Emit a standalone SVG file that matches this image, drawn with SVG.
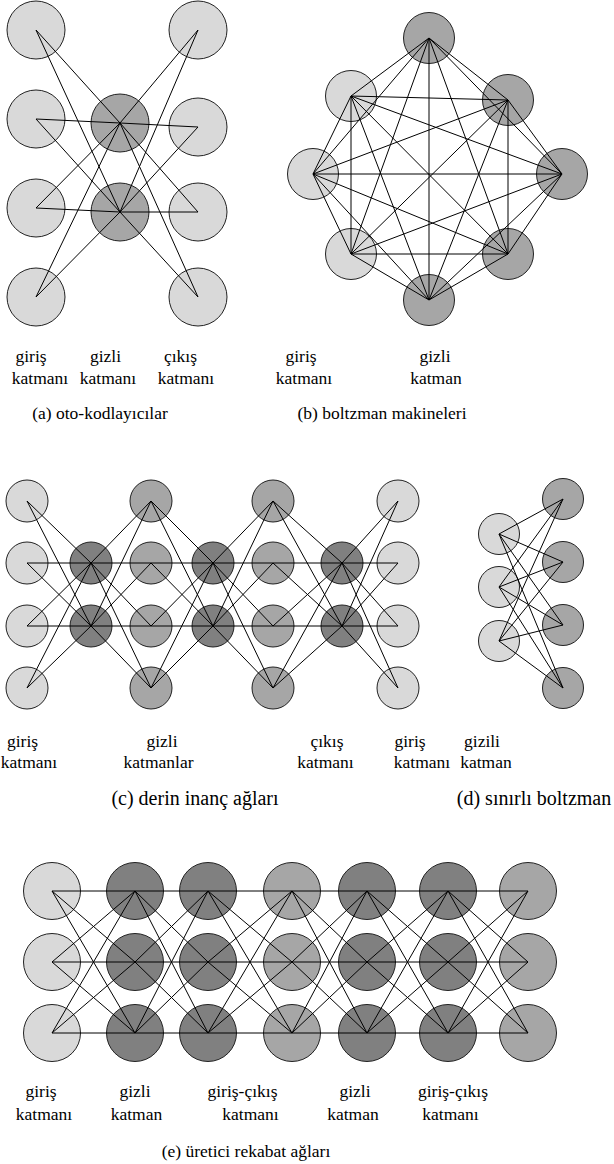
<svg xmlns="http://www.w3.org/2000/svg" width="614" height="1164" viewBox="0 0 614 1164">
  <style>
    .n circle { stroke: #222; stroke-width: 1; }
    .lt { fill: #d9d9d9; }
    .md { fill: #a6a6a6; }
    .dk { fill: #808080; }
    #connectors path { fill: none; stroke: #000; stroke-width: 1; }
    text { font-family: "Liberation Serif", "Times New Roman", serif; font-size: 17.5px; fill: #000; text-anchor: middle; }
    text.cap2 { font-size: 20px; }
  </style>

  <!-- (a) autoencoder -->
  <g class="n">
    <g id="a-in-1"><circle class="lt" cx="36" cy="30" r="29"/></g>
    <g id="a-in-2"><circle class="lt" cx="36" cy="119" r="29"/></g>
    <g id="a-in-3"><circle class="lt" cx="36" cy="208" r="29"/></g>
    <g id="a-in-4"><circle class="lt" cx="36" cy="297" r="29"/></g>
    <g id="a-hid-1"><circle class="md" cx="120" cy="123" r="29"/></g>
    <g id="a-hid-2"><circle class="md" cx="120" cy="212" r="29"/></g>
    <g id="a-out-1"><circle class="lt" cx="198" cy="30" r="29"/></g>
    <g id="a-out-2"><circle class="lt" cx="198" cy="127" r="29"/></g>
    <g id="a-out-3"><circle class="lt" cx="198" cy="212" r="29"/></g>
    <g id="a-out-4"><circle class="lt" cx="198" cy="297" r="29"/></g>
  </g>

  <!-- (b) boltzmann machine -->
  <g class="n">
    <g id="b-1"><circle class="md" cx="429" cy="38" r="25.5"/></g>
    <g id="b-2"><circle class="md" cx="508" cy="100" r="25.5"/></g>
    <g id="b-3"><circle class="md" cx="562" cy="174" r="25.5"/></g>
    <g id="b-4"><circle class="md" cx="508" cy="254" r="25.5"/></g>
    <g id="b-5"><circle class="md" cx="429" cy="300" r="25.5"/></g>
    <g id="b-6"><circle class="lt" cx="351" cy="254" r="25.5"/></g>
    <g id="b-7"><circle class="lt" cx="313" cy="174" r="25.5"/></g>
    <g id="b-8"><circle class="lt" cx="351" cy="96" r="25.5"/></g>
  </g>

  <!-- (c) deep belief network -->
  <g class="n">
    <g id="c1-1"><circle class="lt" cx="27" cy="501" r="21"/></g>
    <g id="c1-2"><circle class="lt" cx="27" cy="563" r="21"/></g>
    <g id="c1-3"><circle class="lt" cx="27" cy="626" r="21"/></g>
    <g id="c1-4"><circle class="lt" cx="27" cy="688" r="21"/></g>
    <g id="c2-1"><circle class="dk" cx="91" cy="563" r="21"/></g>
    <g id="c2-2"><circle class="dk" cx="91" cy="626" r="21"/></g>
    <g id="c3-1"><circle class="md" cx="151" cy="501" r="21"/></g>
    <g id="c3-2"><circle class="md" cx="151" cy="563" r="21"/></g>
    <g id="c3-3"><circle class="md" cx="151" cy="626" r="21"/></g>
    <g id="c3-4"><circle class="md" cx="151" cy="688" r="21"/></g>
    <g id="c4-1"><circle class="dk" cx="213" cy="563" r="21"/></g>
    <g id="c4-2"><circle class="dk" cx="213" cy="626" r="21"/></g>
    <g id="c5-1"><circle class="md" cx="273" cy="501" r="21"/></g>
    <g id="c5-2"><circle class="md" cx="273" cy="563" r="21"/></g>
    <g id="c5-3"><circle class="md" cx="273" cy="626" r="21"/></g>
    <g id="c5-4"><circle class="md" cx="273" cy="688" r="21"/></g>
    <g id="c6-1"><circle class="dk" cx="342" cy="563" r="21"/></g>
    <g id="c6-2"><circle class="dk" cx="342" cy="626" r="21"/></g>
    <g id="c7-1"><circle class="lt" cx="398" cy="501" r="21"/></g>
    <g id="c7-2"><circle class="lt" cx="398" cy="563" r="21"/></g>
    <g id="c7-3"><circle class="lt" cx="398" cy="626" r="21"/></g>
    <g id="c7-4"><circle class="lt" cx="398" cy="688" r="21"/></g>
  </g>

  <!-- (d) restricted boltzmann machine -->
  <g class="n">
    <g id="d-v1"><circle class="lt" cx="499" cy="534" r="20.5"/></g>
    <g id="d-v2"><circle class="lt" cx="499" cy="587" r="20.5"/></g>
    <g id="d-v3"><circle class="lt" cx="499" cy="641" r="20.5"/></g>
    <g id="d-h1"><circle class="md" cx="563" cy="499" r="20.5"/></g>
    <g id="d-h2"><circle class="md" cx="563" cy="562" r="20.5"/></g>
    <g id="d-h3"><circle class="md" cx="563" cy="625" r="20.5"/></g>
    <g id="d-h4"><circle class="md" cx="563" cy="688" r="20.5"/></g>
  </g>

  <!-- (e) generative adversarial network -->
  <g class="n">
    <g id="e1-1"><circle class="lt" cx="52" cy="891" r="28.5"/></g>
    <g id="e1-2"><circle class="lt" cx="52" cy="962" r="28.5"/></g>
    <g id="e1-3"><circle class="lt" cx="52" cy="1033" r="28.5"/></g>
    <g id="e2-1"><circle class="dk" cx="135" cy="891" r="28.5"/></g>
    <g id="e2-2"><circle class="dk" cx="135" cy="962" r="28.5"/></g>
    <g id="e2-3"><circle class="dk" cx="135" cy="1033" r="28.5"/></g>
    <g id="e3-1"><circle class="dk" cx="208" cy="891" r="28.5"/></g>
    <g id="e3-2"><circle class="dk" cx="208" cy="962" r="28.5"/></g>
    <g id="e3-3"><circle class="dk" cx="208" cy="1033" r="28.5"/></g>
    <g id="e4-1"><circle class="md" cx="292" cy="891" r="28.5"/></g>
    <g id="e4-2"><circle class="md" cx="292" cy="962" r="28.5"/></g>
    <g id="e4-3"><circle class="md" cx="292" cy="1033" r="28.5"/></g>
    <g id="e5-1"><circle class="dk" cx="367" cy="891" r="28.5"/></g>
    <g id="e5-2"><circle class="dk" cx="367" cy="962" r="28.5"/></g>
    <g id="e5-3"><circle class="dk" cx="367" cy="1033" r="28.5"/></g>
    <g id="e6-1"><circle class="dk" cx="448" cy="891" r="28.5"/></g>
    <g id="e6-2"><circle class="dk" cx="448" cy="962" r="28.5"/></g>
    <g id="e6-3"><circle class="dk" cx="448" cy="1033" r="28.5"/></g>
    <g id="e7-1"><circle class="md" cx="528" cy="891" r="28.5"/></g>
    <g id="e7-2"><circle class="md" cx="528" cy="962" r="28.5"/></g>
    <g id="e7-3"><circle class="md" cx="528" cy="1033" r="28.5"/></g>
  </g>

  <!-- connections, drawn over the units -->
  <g id="connectors">
    <!-- (a) -->
    <path d="M36 30L120 123M36 30L120 212M36 119L120 123M36 119L120 212M36 208L120 123M36 208L120 212M36 297L120 123M36 297L120 212"/>
    <path d="M120 123L198 30M120 123L198 127M120 123L198 212M120 123L198 297M120 212L198 30M120 212L198 127M120 212L198 212M120 212L198 297"/>
    <!-- (b) fully connected -->
    <path d="M429 38L508 100M429 38L562 174M429 38L508 254M429 38L429 300M429 38L351 254M429 38L313 174M429 38L351 96
             M508 100L562 174M508 100L508 254M508 100L429 300M508 100L351 254M508 100L313 174M508 100L351 96
             M562 174L508 254M562 174L429 300M562 174L351 254M562 174L313 174M562 174L351 96
             M508 254L429 300M508 254L351 254M508 254L313 174M508 254L351 96
             M429 300L351 254M429 300L313 174M429 300L351 96
             M351 254L313 174M351 254L351 96
             M313 174L351 96"/>
    <!-- (c) -->
    <path d="M27 501L91 563M27 501L91 626M27 563L91 563M27 563L91 626M27 626L91 563M27 626L91 626M27 688L91 563M27 688L91 626"/>
    <path d="M91 563L151 501M91 563L151 563M91 563L151 626M91 563L151 688M91 626L151 501M91 626L151 563M91 626L151 626M91 626L151 688"/>
    <path d="M151 501L213 563M151 501L213 626M151 563L213 563M151 563L213 626M151 626L213 563M151 626L213 626M151 688L213 563M151 688L213 626"/>
    <path d="M213 563L273 501M213 563L273 563M213 563L273 626M213 563L273 688M213 626L273 501M213 626L273 563M213 626L273 626M213 626L273 688"/>
    <path d="M273 501L342 563M273 501L342 626M273 563L342 563M273 563L342 626M273 626L342 563M273 626L342 626M273 688L342 563M273 688L342 626"/>
    <path d="M342 563L398 501M342 563L398 563M342 563L398 626M342 563L398 688M342 626L398 501M342 626L398 563M342 626L398 626M342 626L398 688"/>
    <!-- (d) -->
    <path d="M499 534L563 499M499 534L563 562M499 534L563 625M499 534L563 688
             M499 587L563 499M499 587L563 562M499 587L563 625M499 587L563 688
             M499 641L563 499M499 641L563 562M499 641L563 625M499 641L563 688"/>
    <!-- (e) -->
    <path d="M52 891L135 891M52 891L135 962M52 891L135 1033M52 962L135 891M52 962L135 962M52 962L135 1033M52 1033L135 891M52 1033L135 962M52 1033L135 1033"/>
    <path d="M135 891L208 891M135 891L208 962M135 891L208 1033M135 962L208 891M135 962L208 962M135 962L208 1033M135 1033L208 891M135 1033L208 962M135 1033L208 1033"/>
    <path d="M208 891L292 891M208 891L292 962M208 891L292 1033M208 962L292 891M208 962L292 962M208 962L292 1033M208 1033L292 891M208 1033L292 962M208 1033L292 1033"/>
    <path d="M292 891L367 891M292 891L367 962M292 891L367 1033M292 962L367 891M292 962L367 962M292 962L367 1033M292 1033L367 891M292 1033L367 962M292 1033L367 1033"/>
    <path d="M367 891L448 891M367 891L448 962M367 891L448 1033M367 962L448 891M367 962L448 962M367 962L448 1033M367 1033L448 891M367 1033L448 962M367 1033L448 1033"/>
    <path d="M448 891L528 891M448 891L528 962M448 891L528 1033M448 962L528 891M448 962L528 962M448 962L528 1033M448 1033L528 891M448 1033L528 962M448 1033L528 1033"/>
  </g>

  <!-- labels -->
  <g id="labels">
    <text x="31" y="362">giriş</text>
    <text x="40" y="384">katmanı</text>
    <text x="105.5" y="362">gizli</text>
    <text x="108" y="384">katmanı</text>
    <text x="180.5" y="362">çıkış</text>
    <text x="186" y="384">katmanı</text>
    <text x="100" y="419">(a) oto-kodlayıcılar</text>

    <text x="301" y="362">giriş</text>
    <text x="304" y="384">katmanı</text>
    <text x="435" y="362">gizli</text>
    <text x="436" y="384">katman</text>
    <text x="382" y="419">(b) boltzman makineleri</text>

    <text x="22.5" y="747">giriş</text>
    <text x="29" y="768">katmanı</text>
    <text x="162" y="747">gizli</text>
    <text x="158.5" y="768">katmanlar</text>
    <text x="327" y="747">çıkış</text>
    <text x="325.5" y="768">katmanı</text>
    <text class="cap2" x="195" y="805">(c) derin inanç ağları</text>

    <text x="410" y="747">giriş</text>
    <text x="422" y="768">katmanı</text>
    <text x="482" y="747">gizili</text>
    <text x="486" y="768">katman</text>
    <text class="cap2" x="534" y="805">(d) sınırlı boltzman</text>

    <text x="41" y="1097">giriş</text>
    <text x="44" y="1120">katmanı</text>
    <text x="135" y="1097">gizli</text>
    <text x="136.5" y="1120">katman</text>
    <text x="242.5" y="1097">giriş-çıkış</text>
    <text x="250.5" y="1120">katmanı</text>
    <text x="355" y="1097">gizli</text>
    <text x="353" y="1120">katman</text>
    <text x="453" y="1097">giriş-çıkış</text>
    <text x="450.5" y="1120">katmanı</text>
    <text x="246" y="1157">(e) üretici rekabat ağları</text>
  </g>
</svg>
